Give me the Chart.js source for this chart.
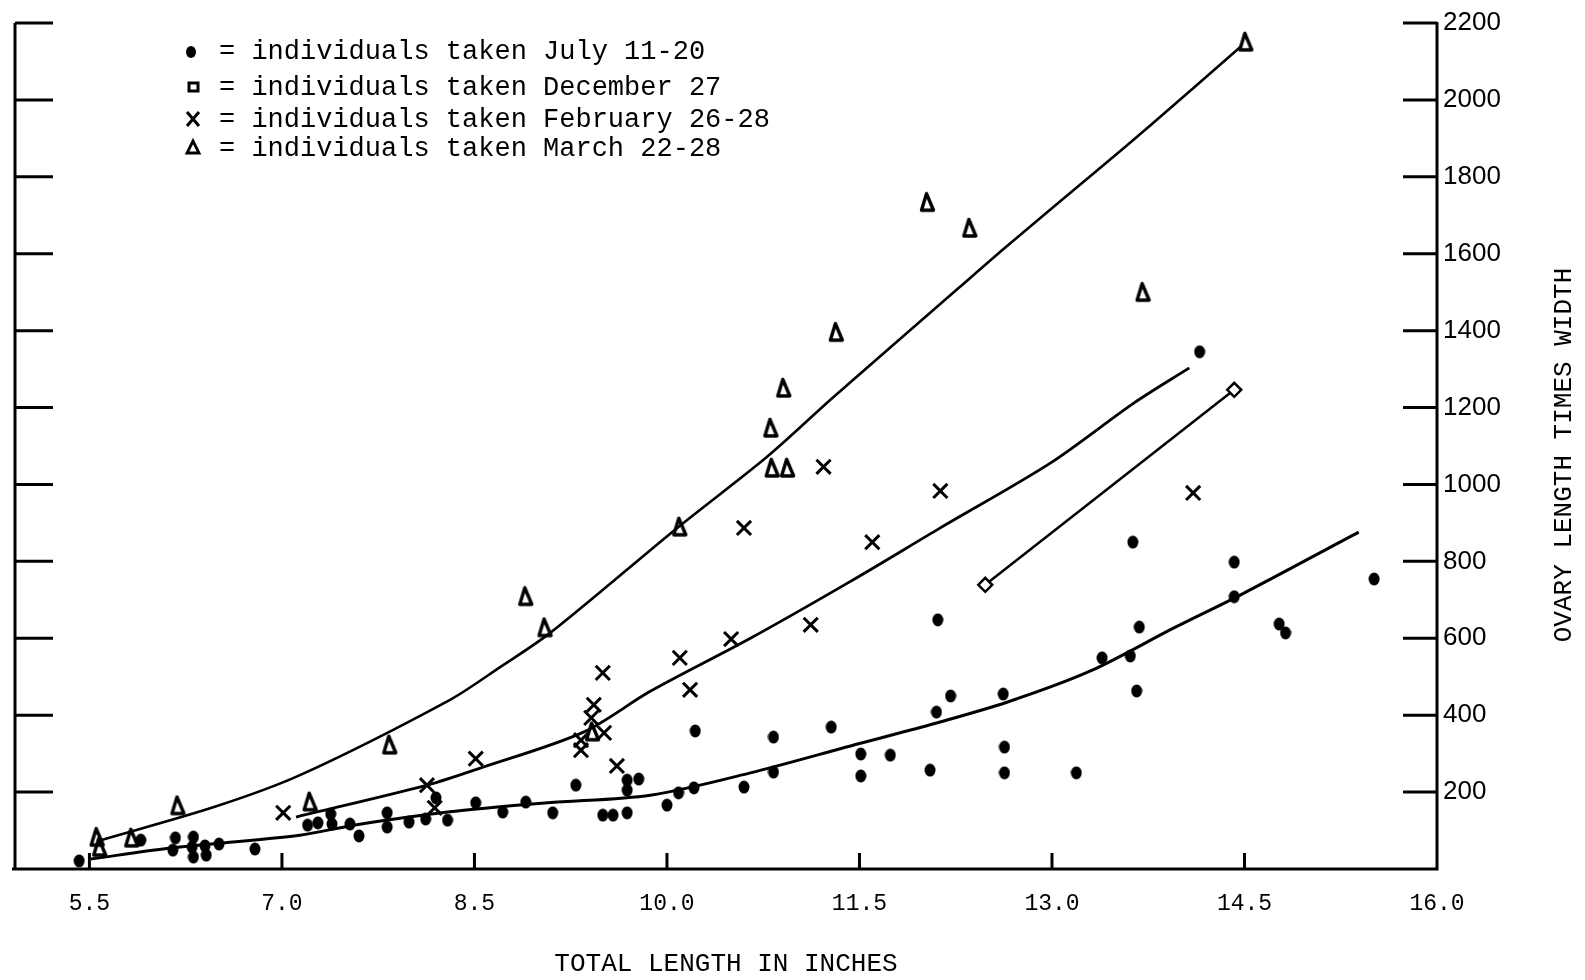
<!DOCTYPE html>
<html>
<head>
<meta charset="utf-8">
<script src="https://cdn.jsdelivr.net/npm/chart.js@4/dist/chart.umd.min.js"></script>
<style>
  html, body { margin: 0; padding: 0; background: #fff; }
  canvas { display: block; }
</style>
</head>
<body>
<canvas id="ovary-chart" width="1585" height="980"></canvas>
<script>
// Values
const julyX = [5.42, 5.90, 6.17, 6.31, 6.15, 6.30, 6.40, 6.31, 6.41, 6.51, 6.79, 7.20, 7.28, 7.38, 7.39, 7.53, 7.60, 7.82, 7.82, 7.99,
  8.12, 8.20, 8.29, 8.51, 8.72, 8.90, 9.11, 9.29, 9.50, 9.58, 9.69, 9.69, 9.78, 9.69, 10.00, 10.09, 10.21, 10.22, 10.60, 10.83,
  10.83, 11.28, 11.51, 11.51, 11.74, 12.05, 12.11, 12.10, 12.21, 12.62, 12.63, 12.63, 13.19, 13.39, 13.61, 13.63, 13.68, 13.66,
  14.15, 14.42, 14.42, 14.77, 14.82, 15.51];
const julyY = [21, 75, 81, 83, 49, 57, 60, 31, 36, 65, 52, 114, 120, 143, 117, 117, 86, 146, 109, 122,
  130, 185, 127, 172, 148, 174, 146, 218, 140, 140, 146, 231, 234, 205, 166, 198, 211, 359, 213, 343,
  252, 369, 299, 242, 296, 257, 648, 408, 450, 455, 317, 250, 250, 549, 554, 850, 629, 463,
  1345, 798, 708, 637, 614, 754];

const decX = [12.48, 14.42];
const decY = [739, 1246];

const febX = [7.01, 8.13, 8.19, 8.51, 9.33, 9.33, 9.41, 9.43, 9.50, 9.51, 9.61, 10.10, 10.18, 10.50, 10.60, 11.12, 11.22, 11.60, 12.13, 14.10];
const febY = [146, 218, 159, 287, 335, 309, 393, 427, 510, 354, 268, 549, 466, 598, 887, 635, 1046, 850, 983, 978];

const marX = [5.56, 5.58, 5.83, 6.19, 7.22, 7.84, 8.90, 9.05, 9.42, 10.10, 10.81, 10.82, 10.94, 10.91, 11.32, 12.03, 12.36, 13.71, 14.51];
const marY = [83, 57, 81, 165, 175, 323, 709, 628, 357, 890, 1147, 1043, 1043, 1251, 1396, 1734, 1667, 1500, 2151];

// hand drawn fitted curves
const julyFitX = [5.51, 6.15, 7.14, 7.56, 8.29, 9.07, 9.87, 10.65, 11.43, 12.05, 12.66, 13.30, 13.95, 14.47, 15.39];
const julyFitY = [26, 55, 88, 114, 148, 172, 192, 250, 320, 375, 435, 515, 627, 713, 876];
const febFitX = [7.11, 8.13, 8.55, 9.35, 9.87, 10.65, 11.43, 12.13, 12.99, 13.64, 14.07];
const febFitY = [135, 218, 263, 356, 462, 600, 748, 887, 1056, 1212, 1303];
const marFitX = [5.59, 6.47, 7.14, 8.31, 8.70, 9.09, 10.08, 10.78, 11.30, 12.27, 12.65, 13.40, 13.77, 14.47];
const marFitY = [75, 161, 244, 440, 525, 614, 887, 1072, 1228, 1510, 1620, 1830, 1935, 2138];

const seriesNames = ['individuals taken July 11-20', 'individuals taken December 27',
  'individuals taken February 26-28', 'individuals taken March 22-28'];

const xTickValues = [5.5, 7.0, 8.5, 10.0, 11.5, 13.0, 14.5, 16.0];
const xTickLabels = ['5.5', '7.0', '8.5', '10.0', '11.5', '13.0', '14.5', '16.0'];
const yTickValues = [200, 400, 600, 800, 1000, 1200, 1400, 1600, 1800, 2000, 2200];
const yTickLabels = ['200', '400', '600', '800', '1000', '1200', '1400', '1600', '1800', '2000', '2200'];

const MONO = 'Liberation Mono';

function pts(xs, ys) {
  return xs.map((v, i) => ({ x: v, y: ys[i] }));
}

// narrow open triangle like the typed "Δ"
function makeTriangle(w, h, lw) {
  const c = document.createElement('canvas');
  c.width = w; c.height = h;
  const g = c.getContext('2d');
  g.strokeStyle = '#000';
  g.lineWidth = lw;
  g.lineJoin = 'round';
  g.beginPath();
  g.moveTo(w / 2 - 1, 2.5);
  g.lineTo(w - 2.5, h - 3);
  g.lineTo(2.5, h - 3);
  g.closePath();
  g.stroke();
  return c;
}
// inked dot, a bit taller than wide
function makeDot(w, h) {
  const c = document.createElement('canvas');
  c.width = w; c.height = h;
  const g = c.getContext('2d');
  g.fillStyle = '#000';
  g.beginPath();
  g.ellipse(w / 2, h / 2, w / 2 - 0.5, h / 2 - 0.5, 0, 0, Math.PI * 2);
  g.fill();
  return c;
}
const triMarker = makeTriangle(17, 22, 3.4);
const dotMarker = makeDot(12, 14);

// axes drawn by hand: ticks point inward like the original
const axisPlugin = {
  id: 'axisMarks',
  afterDraw(chart) {
    const { ctx, chartArea: a, scales: { x, y } } = chart;
    ctx.save();
    ctx.strokeStyle = '#000';
    ctx.lineWidth = 3;
    ctx.beginPath();
    const top = y.getPixelForValue(2200);
    ctx.moveTo(a.left, top); ctx.lineTo(a.left, a.bottom);
    ctx.moveTo(a.right, top - 1); ctx.lineTo(a.right, a.bottom);
    ctx.moveTo(a.left - 3, a.bottom); ctx.lineTo(a.right + 1.5, a.bottom);
    yTickValues.forEach(v => {
      const p = y.getPixelForValue(v);
      ctx.moveTo(a.left, p); ctx.lineTo(a.left + 38, p);
      ctx.moveTo(a.right, p); ctx.lineTo(a.right - 34, p);
    });
    xTickValues.forEach(v => {
      if (v >= 16) return;
      const p = x.getPixelForValue(v);
      ctx.moveTo(p, a.bottom); ctx.lineTo(p, a.bottom - 16);
    });
    ctx.stroke();

    // right axis title, reads bottom to top
    ctx.fillStyle = '#000';
    ctx.font = '26px "' + MONO + '"';
    ctx.textAlign = 'center';
    ctx.textBaseline = 'middle';
    ctx.translate(1564, 455);
    ctx.rotate(-Math.PI / 2);
    ctx.fillText('OVARY LENGTH TIMES WIDTH', 0, 0);
    ctx.restore();
  }
};

// typed key in the upper left
const keyPlugin = {
  id: 'typedKey',
  afterDraw(chart) {
    const { ctx } = chart;
    const rows = [52, 88, 120, 149];
    ctx.save();
    ctx.fillStyle = '#000';
    ctx.strokeStyle = '#000';
    ctx.font = '27px "' + MONO + '"';
    ctx.textAlign = 'left';
    ctx.textBaseline = 'middle';
    seriesNames.forEach((name, i) => {
      ctx.fillText('= ' + name, 219, rows[i]);
    });
    // markers
    ctx.lineWidth = 3;
    ctx.beginPath();
    ctx.ellipse(191, 52, 5, 6, 0, 0, Math.PI * 2);
    ctx.fill();
    ctx.strokeRect(189, 83, 9, 8);
    ctx.beginPath();
    ctx.moveTo(187, 112); ctx.lineTo(199, 126);
    ctx.moveTo(199, 112); ctx.lineTo(187, 126);
    ctx.stroke();
    ctx.lineWidth = 2.8;
    ctx.beginPath();
    ctx.moveTo(193, 141); ctx.lineTo(199, 153); ctx.lineTo(187, 153); ctx.closePath();
    ctx.stroke();
    ctx.restore();
  }
};

const fitLine = (xs, ys, w) => ({
  data: pts(xs, ys),
  showLine: true,
  borderColor: '#000',
  borderWidth: w,
  pointRadius: 0,
  tension: 0.3,
  order: 5
});

const chart = new Chart(document.getElementById('ovary-chart').getContext('2d'), {
  type: 'scatter',
  data: {
    datasets: [
      {
        label: seriesNames[0],
        data: pts(julyX, julyY),
        pointStyle: dotMarker,
        pointRadius: 7
      },
      {
        label: seriesNames[1],
        data: pts(decX, decY),
        showLine: true,
        borderColor: '#000',
        borderWidth: 2.5,
        pointStyle: 'rectRot',
        pointRadius: 7,
        pointBorderWidth: 2.5,
        pointBackgroundColor: '#fff'
      },
      {
        label: seriesNames[2],
        data: pts(febX, febY),
        pointStyle: 'crossRot',
        pointRadius: 10,
        borderColor: '#000',
        borderWidth: 3
      },
      {
        label: seriesNames[3],
        data: pts(marX, marY),
        pointStyle: triMarker,
        pointRadius: 8
      },
      fitLine(julyFitX, julyFitY, 3),
      fitLine(febFitX, febFitY, 2.8),
      fitLine(marFitX, marFitY, 2.6)
    ]
  },
  options: {
    responsive: false,
    animation: false,
    layout: { padding: { left: 15, top: 23, right: 0, bottom: 0 } },
    plugins: {
      legend: { display: false },
      tooltip: { enabled: false }
    },
    scales: {
      x: {
        type: 'linear',
        position: 'bottom',
        min: 4.92,
        max: 16.0,
        afterBuildTicks: s => { s.ticks = xTickValues.map(v => ({ value: v })); },
        afterFit: s => { s.height = 111; },
        grid: { display: false, drawTicks: false },
        border: { display: false },
        ticks: {
          autoSkip: false,
          maxRotation: 0,
          padding: 21,
          color: '#000',
          font: { family: MONO, size: 23 },
          callback: (v, i) => xTickLabels[i]
        },
        title: {
          display: true,
          text: 'TOTAL LENGTH IN INCHES',
          color: '#000',
          font: { family: MONO, size: 26 },
          padding: { top: 0, bottom: 0 }
        }
      },
      y: {
        type: 'linear',
        position: 'right',
        min: 0,
        max: 2200,
        afterBuildTicks: s => { s.ticks = yTickValues.map(v => ({ value: v })); },
        afterFit: s => { s.width = 148; },
        grid: { display: false, drawTicks: false },
        border: { display: false },
        ticks: {
          autoSkip: false,
          padding: 6,
          color: '#000',
          font: { family: 'Liberation Sans', size: 26 },
          callback: (v, i) => yTickLabels[i]
        }
      }
    }
  },
  plugins: [axisPlugin, keyPlugin]
});
</script>
</body>
</html>
